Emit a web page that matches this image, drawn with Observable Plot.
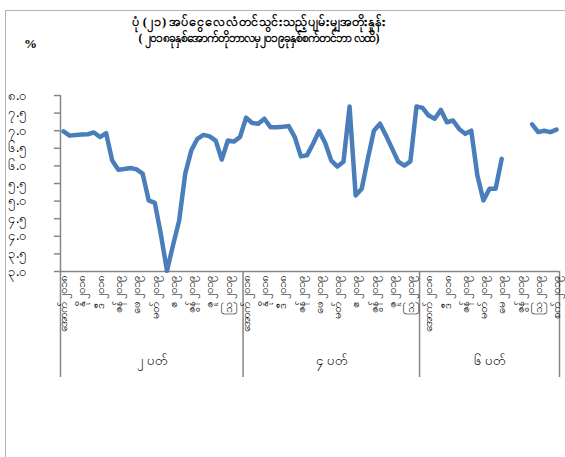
<!DOCTYPE html>
<html><head><meta charset="utf-8">
<script src="https://cdn.jsdelivr.net/npm/d3@7"></script>
<script src="https://cdn.jsdelivr.net/npm/@observablehq/plot@0.6"></script>
<style>
body{margin:0;background:#fff;}
#wrap{position:relative;width:565px;height:457px;overflow:hidden;background:#fff;color:#000;}
#frame{position:absolute;left:5px;top:10px;width:700px;height:600px;border:1.5px solid #b4b4b4;box-sizing:border-box;}
.t{position:absolute;left:0;width:518px;text-align:center;font-weight:bold;white-space:nowrap;}
#t1{top:13px;font-size:12.6px;line-height:18px;}
#t2{top:29px;font-size:12px;line-height:18px;}
#pct{position:absolute;left:24px;top:36px;font-weight:bold;font-size:13px;line-height:16px;}
#chart{position:absolute;left:0;top:0;}
</style></head>
<body><div id="wrap"><div id="frame"></div><div id="chart"></div>
<div class="t" id="t1"></div>
<div class="t" id="t2"></div>
<div id="pct"></div>
</div>
<script>
const titleText = "ပုံ (၂၁) အပ်ငွေလေလံတင်သွင်းသည့်ပျမ်းမျှအတိုးနှုန်း";
const subtitleText = "( ၂၀၁၈ခုနှစ်အောက်တိုဘာလမှ၂၀၁၉ခုနှစ်စက်တင်ဘာ လထိ)";
const unitText = "%";

// groups (tenors) and number of auctions in each
const groupNames = ["၂ ပတ်", "၄ ပတ်", "၆ ပတ်"];
const groupSizes = [30, 29, 23];

// average interest rate (%) for each auction, in order
const values = [
  6.98, 6.86, 6.88, 6.89, 6.90, 6.95, 6.82, 6.93, 6.15, 5.89,
  5.91, 5.94, 5.90, 5.78, 5.02, 4.95, 4.05, 3.02, 3.75, 4.45,
  5.78, 6.44, 6.77, 6.88, 6.84, 6.72, 6.18, 6.72, 6.69, 6.82,
  7.37, 7.22, 7.20, 7.34, 7.10, 7.10, 7.11, 7.13, 6.82, 6.27,
  6.30, 6.63, 6.99, 6.65, 6.15, 5.98, 6.12, 7.69, 5.16, 5.35,
  6.20, 7.00, 7.20, 6.86, 6.49, 6.12, 6.01, 6.13, 7.69,
  7.65, 7.43, 7.34, 7.59, 7.24, 7.29, 7.05, 6.91, 7.00, 5.73,
  5.02, 5.35, 5.35, 6.20, null, null, null, null, 7.18, 6.96,
  7.00, 6.96, 7.03
];

// category labels shown (every third auction)
const labelIndex = [0,3,6,9,12,15,18,21,24,27,30,33,36,39,42,45,48,51,54,57,60,63,66,69,72,75,78,81];
const labelText = [
  "အောက် ၂၀၁၈","နို ၂၀၁၈","ဒီ ၂၀၁၈","ဇန် ၂၀၁၉","ဖေ ၂၀၁၉","မတ် ၂၀၁၉","ဧ ၂၀၁၉","ဇွန် ၂၀၁၉","ဇူ ၂၀၁၉","ဩ ၂၀၁၉",
  "အောက် ၂၀၁၈","နို ၂၀၁၈","ဒီ ၂၀၁၈","ဇန် ၂၀၁၉","ဖေ ၂၀၁၉","မတ် ၂၀၁၉","ဧ ၂၀၁၉","ဇွန် ၂၀၁၉","ဇူ ၂၀၁၉","ဩ ၂၀၁၉",
  "အောက် ၂၀၁၈","ဒီ ၂၀၁၈","ဇန် ၂၀၁၉","မတ် ၂၀၁၉","မေ ၂၀၁၉","ဇွန် ၂၀၁၉","ဩ ၂၀၁၉","စက် ၂၀၁၉"
];

// y axis
const yTicks = [3, 3.5, 4, 4.5, 5, 5.5, 6, 6.5, 7, 7.5, 8];
const yTickLabels = ["၃.၀","၃.၅","၄.၀","၄.၅","၅.၀","၅.၅","၆.၀","၆.၅","၇.၀","၇.၅","၈.၀"];

document.getElementById("t1").textContent = titleText;
document.getElementById("t2").textContent = subtitleText;
document.getElementById("pct").textContent = unitText;

const n = values.length;
const idx = d3.range(n);
const bounds = [-0.5];
groupSizes.forEach(s => bounds.push(bounds[bounds.length - 1] + s));
const groups = groupNames.map((g, i) => ({name: g, c: (bounds[i] + bounds[i + 1]) / 2}));

const axisGray = "#868686";
const yTop = 95, yBottom = 271;

const chart = Plot.plot({
  width: 565,
  height: 457,
  marginLeft: 60,
  marginRight: 6,
  marginTop: yTop,
  marginBottom: 80,
  style: {background: "transparent"},
  x: {type: "linear", domain: [bounds[0], bounds[bounds.length - 1]], axis: null},
  y: {domain: [3, 8], range: [yBottom, yTop], axis: null},
  marks: [
    Plot.ruleX([bounds[0]], {stroke: axisGray, strokeWidth: 1.5}),
    Plot.ruleX(bounds.slice(1), {stroke: axisGray, strokeWidth: 1.5, insetTop: yBottom - yTop}),
    Plot.ruleY([3], {stroke: axisGray, strokeWidth: 1.5}),
    Plot.axisY({ticks: yTicks, tickSize: 6, tickPadding: 27, tickFormat: d => yTickLabels[yTicks.indexOf(d)], stroke: axisGray, fill: "#000", strokeWidth: 1.5, fontSize: 13, label: null}),
    Plot.line(idx, {x: i => i, y: i => values[i], stroke: "#4a7ebb", strokeWidth: 4.5, strokeLinejoin: "round", strokeLinecap: "round"}),
    Plot.text(labelIndex, {x: d => d, y: () => 3, text: (d, i) => labelText[i], rotate: -90, textAnchor: "end", dy: 4, fontSize: 11.5, fill: "#000"}),
    Plot.text(groups, {x: "c", text: "name", frameAnchor: "bottom", dy: -13, fontSize: 13, fill: "#000"})
  ]
});
document.getElementById("chart").appendChild(chart);
</script>
</body></html>
